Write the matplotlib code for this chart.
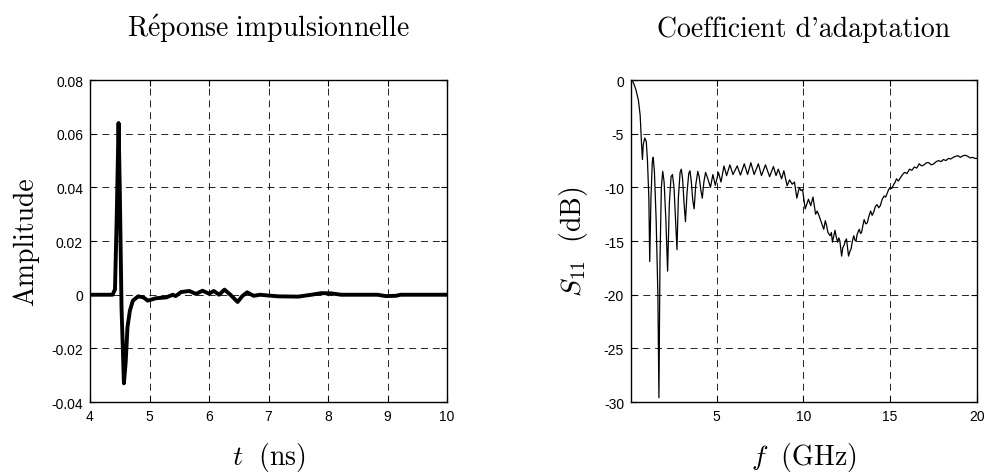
import numpy as np
import matplotlib.pyplot as plt
from matplotlib.ticker import FormatStrFormatter

plt.rcParams['mathtext.fontset'] = 'cm'
plt.rcParams['axes.unicode_minus'] = False
plt.rcParams['lines.scale_dashes'] = False

# Impulse response (ns, amplitude)
t_ns = [4.0, 4.2, 4.38, 4.42, 4.45, 4.48, 4.5, 4.53, 4.57, 4.6, 4.63, 4.67,
        4.72, 4.81, 4.9, 4.97, 5.11, 5.28, 5.39, 5.44, 5.53, 5.67, 5.78,
        5.89, 6.0, 6.08, 6.17, 6.26, 6.36, 6.48, 6.56, 6.64, 6.75, 6.86,
        7.0, 7.17, 7.5, 7.72, 7.89, 8.06, 8.22, 8.83, 8.97, 9.14, 9.22, 10.0]
amplitude = [0.0, 0.0, 0.0, 0.002, 0.03, 0.064, 0.04, -0.005, -0.033, -0.025,
             -0.012, -0.006, -0.0022, -0.0006, -0.001, -0.0022, -0.0013,
             -0.001, 0.0, -0.0005, 0.001, 0.0014, 0.0003, 0.0015, 0.0004,
             0.0014, 0.0, 0.0019, 0.0, -0.0027, -0.0005, 0.0009, -0.0004, 0.0,
             -0.0003, -0.0006, -0.0007, 0.0, 0.0006, 0.0005, 0.0, 0.0,
             -0.0005, -0.0004, 0.0, 0.0]

# Reflection coefficient (GHz, dB)
f_ghz = [0.13, 0.25, 0.37, 0.5, 0.6, 0.68, 0.73, 0.78, 0.86, 0.95, 1.02, 1.1,
         1.15, 1.22, 1.3, 1.35, 1.42, 1.52, 1.62, 1.68, 1.74, 1.82, 1.9, 1.98,
         2.08, 2.18, 2.28, 2.38, 2.46, 2.55, 2.64, 2.72, 2.8, 2.9, 2.97, 3.05,
         3.13, 3.21, 3.3, 3.4, 3.47, 3.55, 3.63, 3.71, 3.8, 3.92, 4.0, 4.1,
         4.18, 4.27, 4.37, 4.5, 4.65, 4.79, 4.93, 5.11, 5.26, 5.43, 5.58,
         5.77, 5.95, 6.19, 6.38, 6.6, 6.79, 6.98, 7.17, 7.41, 7.59, 7.82,
         8.06, 8.28, 8.43, 8.56, 8.75, 8.88, 9.07, 9.21, 9.36, 9.49, 9.63,
         9.77, 9.87, 9.96, 10.11, 10.3, 10.43, 10.56, 10.71, 10.8, 10.9,
         11.05, 11.18, 11.27, 11.35, 11.42, 11.55, 11.62, 11.68, 11.76, 11.83,
         11.9, 11.98, 12.05, 12.11, 12.21, 12.28, 12.35, 12.42, 12.49, 12.55,
         12.61, 12.68, 12.76, 12.83, 12.91, 12.97, 13.04, 13.1, 13.17, 13.23,
         13.3, 13.36, 13.43, 13.51, 13.6, 13.69, 13.78, 13.88, 13.97, 14.06,
         14.15, 14.25, 14.35, 14.44, 14.55, 14.66, 14.75, 14.85, 14.92, 15.0,
         15.1, 15.22, 15.3, 15.37, 15.48, 15.6, 15.72, 15.84, 15.98, 16.12,
         16.26, 16.4, 16.54, 16.68, 16.82, 16.96, 17.1, 17.24, 17.38, 17.52,
         17.66, 17.8, 17.94, 18.08, 18.22, 18.36, 18.5, 18.64, 18.78, 18.92,
         19.06, 19.2, 19.34, 19.48, 19.62, 19.76, 19.9, 20.02]
s11_db = [0.0, -0.4, -1.0, -1.9, -3.3, -6.0, -7.4, -6.0, -5.4, -5.7, -7.5,
          -11.0, -16.9, -11.0, -7.6, -7.2, -8.5, -13.0, -20.0, -29.6, -17.0,
          -10.0, -8.5, -9.5, -13.0, -17.8, -11.5, -9.0, -8.8, -10.0, -13.0,
          -15.8, -11.0, -8.6, -8.3, -9.3, -11.5, -13.2, -10.5, -8.7, -8.45,
          -9.5, -11.2, -12.0, -9.8, -8.5, -9.0, -10.3, -11.0, -9.5, -8.6,
          -9.2, -10.0, -8.8, -9.8, -8.6, -9.5, -8.0, -8.9, -7.9, -8.8, -8.0,
          -8.85, -7.8, -8.8, -7.7, -8.8, -7.8, -8.9, -7.9, -9.0, -8.05, -8.9,
          -8.3, -9.2, -8.45, -9.85, -9.3, -9.7, -9.5, -11.0, -10.0, -10.3,
          -10.2, -12.0, -11.1, -11.7, -10.9, -12.5, -12.2, -12.6, -13.3,
          -13.9, -13.1, -13.6, -14.2, -14.5, -14.2, -15.1, -14.5, -14.0,
          -14.6, -15.1, -14.7, -15.0, -16.4, -15.6, -15.4, -15.0, -14.8,
          -15.6, -16.4, -16.0, -15.7, -15.0, -14.5, -14.9, -15.0, -14.4,
          -14.1, -13.9, -14.3, -14.2, -13.6, -13.0, -13.4, -13.3, -12.7,
          -12.2, -12.6, -12.3, -11.8, -11.6, -11.9, -11.7, -11.1, -10.8,
          -10.9, -10.5, -10.2, -10.0, -10.1, -9.7, -9.5, -9.2, -9.4, -9.1,
          -8.8, -8.6, -8.7, -8.3, -8.4, -8.1, -8.2, -7.8, -8.0, -7.9, -7.7,
          -7.7, -7.9, -7.8, -7.6, -7.5, -7.6, -7.4, -7.5, -7.3, -7.35, -7.2,
          -7.1, -7.05, -7.2, -7.05, -7.0, -7.1, -7.25, -7.2, -7.3, -7.3]

fig = plt.figure(figsize=(9.89, 4.77), dpi=100)
ax1 = fig.add_axes([0.091, 0.155, 0.361, 0.675])
ax2 = fig.add_axes([0.638, 0.155, 0.350, 0.675])

ax1.plot(t_ns, amplitude, color='black', linewidth=2.8)
ax1.set_xlim(4, 10)
ax1.set_ylim(-0.04, 0.08)
ax1.set_xticks(np.arange(4, 11, 1))
ax1.set_yticks(np.arange(-0.04, 0.081, 0.02))
ax1.yaxis.set_major_formatter(FormatStrFormatter('%g'))
ax1.set_title(r'$\mathrm{R\acute{e}ponse\ impulsionnelle}$', fontsize=20, pad=32)
ax1.set_xlabel(r'$t\ \ \mathrm{(ns)}$', fontsize=20, labelpad=12)
ax1.set_ylabel('Amplitude', fontsize=20, family='cmr10', labelpad=9)

ax2.plot(f_ghz, s11_db, color='black', linewidth=0.9)
ax2.set_xlim(0.07, 20.02)
ax2.set_ylim(-30, 0)
ax2.set_xticks([5, 10, 15, 20])
ax2.set_yticks(np.arange(-30, 1, 5))
ax2.set_title("Coefficient d'adaptation", fontsize=20, family='cmr10', pad=32)
ax2.set_xlabel(r'$f\ \ \mathrm{(GHz)}$', fontsize=20, labelpad=12)
ax2.set_ylabel(r'$S_{11}\ \ \mathrm{(dB)}$', fontsize=20, labelpad=10)

for ax in (ax1, ax2):
    ax.grid(True, color='black', linestyle=(0, (5, 3.5)), linewidth=0.6)
    ax.tick_params(direction='in', top=True, right=True, length=4,
                   labelsize=10, width=0.8, pad=5)
    for lab in ax.get_xticklabels() + ax.get_yticklabels():
        lab.set_family('Liberation Sans')
    for sp in ax.spines.values():
        sp.set_linewidth(1.0)

fig.savefig('out.png', dpi=100)
